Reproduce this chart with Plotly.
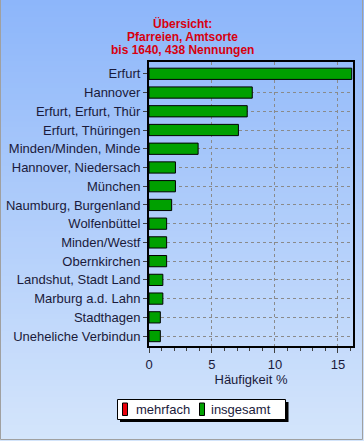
import plotly.graph_objects as go

categories = ["Erfurt", "Hannover", "Erfurt, Erfurt, Thür", "Erfurt, Thüringen",
              "Minden/Minden, Minde", "Hannover, Niedersach", "München",
              "Naumburg, Burgenland", "Wolfenbüttel", "Minden/Westf",
              "Obernkirchen", "Landshut, Stadt Land", "Marburg a.d. Lahn",
              "Stadthagen", "Uneheliche Verbindun"]
insgesamt = [16.1, 8.2, 7.8, 7.1, 3.9, 2.1, 2.1, 1.8, 1.4, 1.4, 1.4, 1.1, 1.1, 0.9, 0.9]
mehrfach = [0] * len(categories)
series_names = ["mehrfach", "insgesamt"]
series_colors = ["#e8000b", "#00a000"]
title_lines = ["Übersicht:", "Pfarreien, Amtsorte", "bis 1640, 438 Nennungen"]
x_ticks = [0, 5, 10, 15]

W, H = 364, 441
L, R, T, B = 149, 11, 62, 95
PW, PH = W - L - R, H - T - B

def px_x(px):
    return (px - L) / PW

def px_y(py):
    return (H - B - py) / PH

FONT = "Liberation Sans, Arial, sans-serif"
TXT = "#1a1a3a"

fig = go.Figure()
for name, vals, col in zip(series_names, [mehrfach, insgesamt], series_colors):
    fig.add_trace(go.Bar(y=categories, x=vals, orientation="h", name=name,
                         marker=dict(color=col, line=dict(color="black", width=1))))

# background gradient
shapes = []
top = (141, 182, 250)
bot = (212, 229, 251)
N = 80
for i in range(N):
    f = i / (N - 1)
    c = tuple(int(round(top[k] + (bot[k] - top[k]) * f)) for k in range(3))
    y0 = i * H / N
    y1 = (i + 1) * H / N + 1
    shapes.append(dict(type="rect", xref="paper", yref="paper", layer="below",
                       x0=px_x(-5), x1=px_x(W + 5), y0=px_y(y1), y1=px_y(y0),
                       fillcolor="rgb(%d,%d,%d)" % c, line=dict(width=0)))
# outer gray border
shapes.append(dict(type="rect", xref="paper", yref="paper", layer="above",
                   x0=px_x(0.5), x1=px_x(W - 1.5), y0=px_y(H - 1.5), y1=px_y(-5),
                   line=dict(color="#a0a0a0", width=1)))

annotations = []
for i, t in enumerate(title_lines):
    annotations.append(dict(text="<b>%s</b>" % t, xref="paper", yref="paper",
                            x=px_x(182), y=px_y(24 + 13 * i), xanchor="center", yanchor="middle",
                            showarrow=False, font=dict(family=FONT, size=12, color="#d8000f")))

# legend box (drawn manually to match the original compact legend)
shapes.append(dict(type="rect", xref="paper", yref="paper", layer="above",
                   x0=px_x(120), x1=px_x(288.5), y0=px_y(422), y1=px_y(402),
                   fillcolor="black", line=dict(width=0)))
shapes.append(dict(type="rect", xref="paper", yref="paper", layer="above",
                   x0=px_x(117.5), x1=px_x(285.5), y0=px_y(419.5), y1=px_y(399.5),
                   fillcolor="white", line=dict(color="black", width=1)))
leg_sym_x = [122.5, 199.5]
leg_txt_x = [134, 209]
for name, col, sx, tx in zip(series_names, series_colors, leg_sym_x, leg_txt_x):
    shapes.append(dict(type="rect", xref="paper", yref="paper", layer="above",
                       x0=px_x(sx), x1=px_x(sx + 5), y0=px_y(415.5), y1=px_y(403),
                       fillcolor=col, line=dict(color="black", width=1)))
    annotations.append(dict(text=name, xref="paper", yref="paper", x=px_x(tx), y=px_y(409.5),
                            xanchor="left", yanchor="middle", showarrow=False,
                            font=dict(family=FONT, size=13, color=TXT)))

fig.update_layout(
    width=W, height=H,
    margin=dict(l=L, r=R, t=T, b=B),
    paper_bgcolor="rgb(176,206,250)",
    plot_bgcolor="rgba(0,0,0,0)",
    barmode="overlay",
    bargap=0.4,
    font=dict(family=FONT, size=13, color=TXT),
    shapes=shapes,
    annotations=annotations,
    showlegend=False,
    xaxis=dict(range=[0, 16.2], tickvals=x_ticks, ticks="outside", ticklen=5,
               tickcolor="#404040", automargin=False,
               minor=dict(dtick=1, ticks="outside", ticklen=3, tickcolor="#404040", showgrid=False),
               showgrid=True, gridcolor="#8a8a8a", griddash="3px,3px", gridwidth=1,
               showline=True, linecolor="black", linewidth=2, mirror=True,
               zeroline=False,
               title=dict(text="Häufigkeit %", font=dict(family=FONT, size=13, color=TXT),
                          standoff=3),
               tickfont=dict(family=FONT, size=13, color=TXT)),
    yaxis=dict(categoryorder="array", categoryarray=categories, automargin=False,
               range=[14.53, -0.63], ticks="outside", ticklen=4, tickcolor="#404040",
               showgrid=True, gridcolor="#8a8a8a", griddash="3px,3px", gridwidth=1,
               showline=True, linecolor="black", linewidth=2, mirror=True,
               tickfont=dict(family=FONT, size=13, color=TXT)),
)

fig.write_html("out.html", config={"displayModeBar": False})

# remove the default page margin so the figure sits at the window's corner
with open("out.html", encoding="utf-8") as fh:
    html = fh.read()
html = html.replace("<head>", "<head><style>body{margin:0;padding:0;overflow:hidden}</style>", 1)
with open("out.html", "w", encoding="utf-8") as fh:
    fh.write(html)
